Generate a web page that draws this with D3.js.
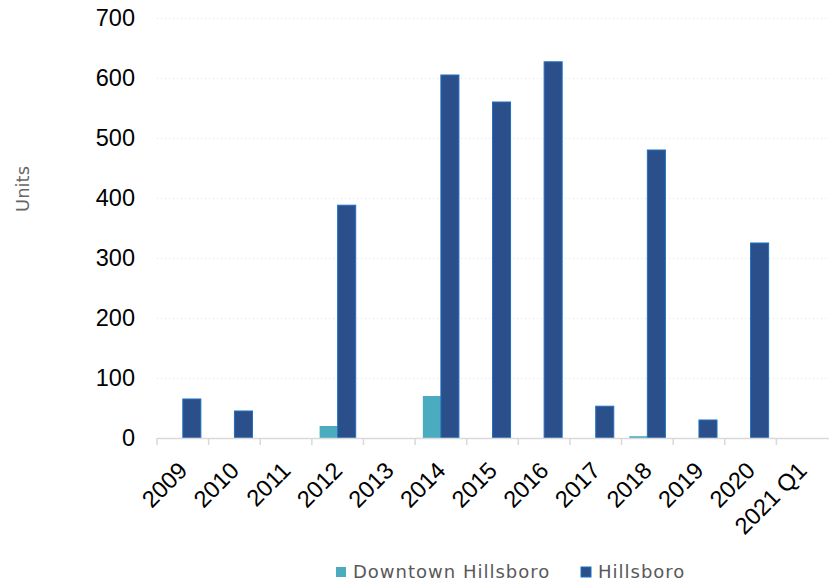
<!DOCTYPE html>
<html><head><meta charset="utf-8">
<script src="https://cdn.jsdelivr.net/npm/d3@7"></script>
<style>body{margin:0;background:#fff}</style>
</head><body>
<svg id="chart" width="829" height="586"></svg>
<script>
const categories = ["2009","2010","2011","2012","2013","2014","2015","2016","2017","2018","2019","2020","2021 Q1"];
const downtown = [0,0,0,20,0,70,0,0,0,3,0,0,0];
const hillsboro = [65,45,0,388,0,605,560,627,53,480,30,325,0];
const seriesNames = ["Downtown Hillsboro","Hillsboro"];
const yTicks = [0,100,200,300,400,500,600,700];

(function(){
const svg = d3.select("#chart");
const numFont = "'Liberation Sans', Arial, sans-serif";
const txtFont = "'DejaVu Sans', sans-serif";
const mLeft = 157, mRight = 828, mTop = 18, mBottom = 438;

const x = d3.scaleBand().domain(categories).range([mLeft, mRight]).paddingInner(0).paddingOuter(0);
const xs = d3.scaleBand().domain(seriesNames).range([0, x.bandwidth()]).paddingInner(0).paddingOuter(0.43);
const y = d3.scaleLinear().domain([0,700]).range([mBottom, mTop]);

// gridlines
svg.append("g").selectAll("line").data(yTicks.filter(d=>d>0)).join("line")
  .attr("x1", mLeft).attr("x2", mRight)
  .attr("y1", d=>Math.round(y(d))+0.5).attr("y2", d=>Math.round(y(d))+0.5)
  .attr("stroke","#e3e3e3").attr("stroke-width",1).attr("stroke-dasharray","1,3");

// y tick labels
svg.append("g").selectAll("text").data(yTicks).join("text")
  .attr("x", 135).attr("y", d=>y(d)).attr("dy","0.36em")
  .attr("text-anchor","end").attr("font-family",numFont).attr("font-size",23.5).attr("fill","#000")
  .text(d=>d);

// y axis title
svg.append("text").attr("transform","translate(29,189) rotate(-90)")
  .attr("text-anchor","middle").attr("font-family",txtFont).attr("font-size",18).attr("fill","#666")
  .text("Units");

// bars
const data = [downtown, hillsboro];
const colors = ["#4BACC0","#2B4F8A"];
const strokes = ["none","#1F6FC0"];
data.forEach((vals, si) => {
  svg.append("g").selectAll("rect").data(vals.map((v,i)=>({v, c:categories[i]})).filter(d=>d.v>0)).join("rect")
    .attr("x", d=>x(d.c)+xs(seriesNames[si]))
    .attr("y", d=>y(d.v))
    .attr("width", xs.bandwidth())
    .attr("height", d=>mBottom-y(d.v))
    .attr("fill", colors[si])
    .attr("stroke", strokes[si]).attr("stroke-width",1);
});

// x axis
const gx = svg.append("g").attr("transform",`translate(0,${mBottom})`);
gx.append("line").attr("x1",mLeft).attr("x2",mRight+1).attr("y1",0.5).attr("y2",0.5).attr("stroke","#d9d9d9").attr("stroke-width",1.5);
const boundaries = categories.map(c=>x(c));
gx.selectAll("line.tk").data(boundaries).join("line").attr("class","tk")
  .attr("x1",d=>d).attr("x2",d=>d).attr("y1",0).attr("y2",7).attr("stroke","#d9d9d9").attr("stroke-width",1.5);
gx.selectAll("text").data(categories).join("text")
  .attr("transform", d=>`translate(${x(d)+x.bandwidth()/2+6},${34}) rotate(-45)`)
  .attr("text-anchor","end")
  .attr("font-family",numFont).attr("font-size",23.5).attr("fill","#000")
  .text(d=>d);

// legend
const legend = [{name:seriesNames[0], x:336, color:colors[0], stroke:"none"},{name:seriesNames[1], x:581, color:colors[1], stroke:"#1F6FC0"}];
legend.forEach(l=>{
  svg.append("rect").attr("x",l.x).attr("y",567).attr("width",10).attr("height",10).attr("fill",l.color).attr("stroke",l.stroke);
  svg.append("text").attr("x",l.x+17).attr("y",578)
    .attr("font-family",txtFont).attr("font-size",18).attr("letter-spacing",1).attr("fill","#595959").text(l.name);
});
})();
</script>
</body></html>
